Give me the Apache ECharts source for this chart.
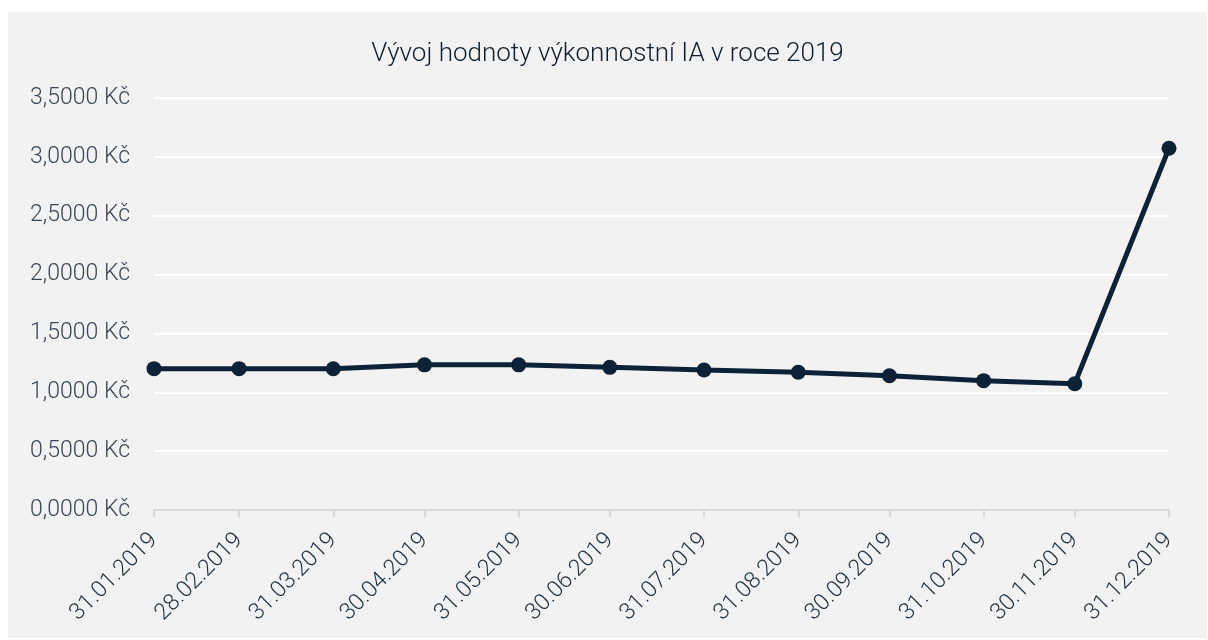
<!DOCTYPE html>
<html>
<head>
<meta charset="utf-8">
<script src="https://cdn.jsdelivr.net/npm/echarts@6/dist/echarts.min.js"></script>
<style>
  html, body { margin: 0; padding: 0; background: #fff; }
  #chart { position: absolute; left: 8px; top: 12px; width: 1199px; height: 626px; background: #f2f2f2; }
</style>
</head>
<body>
<div id="chart"></div>
<script>
// data
const dates = ['2019-01-31', '2019-02-28', '2019-03-31', '2019-04-30', '2019-05-31', '2019-06-30',
  '2019-07-31', '2019-08-31', '2019-09-30', '2019-10-31', '2019-11-30', '2019-12-31']
const values = [1.2010, 1.2010, 1.2005, 1.2330, 1.2330, 1.2120, 1.1890, 1.1700, 1.1410, 1.0990, 1.0730, 3.0730]
const yTicks = [0, 0.5, 1, 1.5, 2, 2.5, 3, 3.5]

const toTs = d => Date.parse(d + 'T00:00:00Z')
const stamps = dates.map(toTs)
const pad = n => (n < 10 ? '0' : '') + n
const fmtDate = ts => {
  const d = new Date(ts)
  return pad(d.getUTCDate()) + '.' + pad(d.getUTCMonth() + 1) + '.' + d.getUTCFullYear()
}

const chart = echarts.init(document.getElementById('chart'))
chart.setOption({
  backgroundColor: '#f2f2f2',
  animation: false,
  textStyle: { fontFamily: 'Roboto' },
  title: {
    text: 'Vývoj hodnoty výkonnostní IA v roce 2019',
    left: 'center',
    top: 24,
    textStyle: { fontSize: 26, fontWeight: 300, color: '#0f1e2e', fontFamily: 'Roboto' }
  },
  grid: { left: 146, right: 38, top: 86, bottom: 128 },
  xAxis: {
    type: 'value',
    min: stamps[0],
    max: stamps[stamps.length - 1],
    splitLine: { show: false },
    axisLine: { show: true, lineStyle: { color: '#d9d9d9', width: 2 } },
    axisTick: { show: true, customValues: stamps, length: 7, lineStyle: { color: '#d9d9d9', width: 2 } },
    axisLabel: {
      customValues: stamps,
      rotate: 45,
      margin: 27,
      fontSize: 23,
      fontWeight: 300,
      color: '#1f2f40',
      formatter: v => fmtDate(v)
    }
  },
  yAxis: {
    type: 'value',
    min: 0,
    max: 3.5,
    interval: 0.5,
    axisLine: { show: false },
    axisTick: { show: false },
    splitLine: { lineStyle: { color: '#ffffff', width: 2 } },
    axisLabel: {
      fontSize: 23,
      fontWeight: 300,
      color: '#3a4757',
      margin: 24,
      customValues: yTicks,
      formatter: v => v.toFixed(4).replace('.', ',') + ' Kč'
    }
  },
  series: [{
    type: 'line',
    data: stamps.map((t, i) => [t, values[i]]),
    symbol: 'circle',
    symbolSize: 15,
    lineStyle: { color: '#0d2236', width: 5 },
    itemStyle: { color: '#0d2236' }
  }]
})
</script>
</body>
</html>
